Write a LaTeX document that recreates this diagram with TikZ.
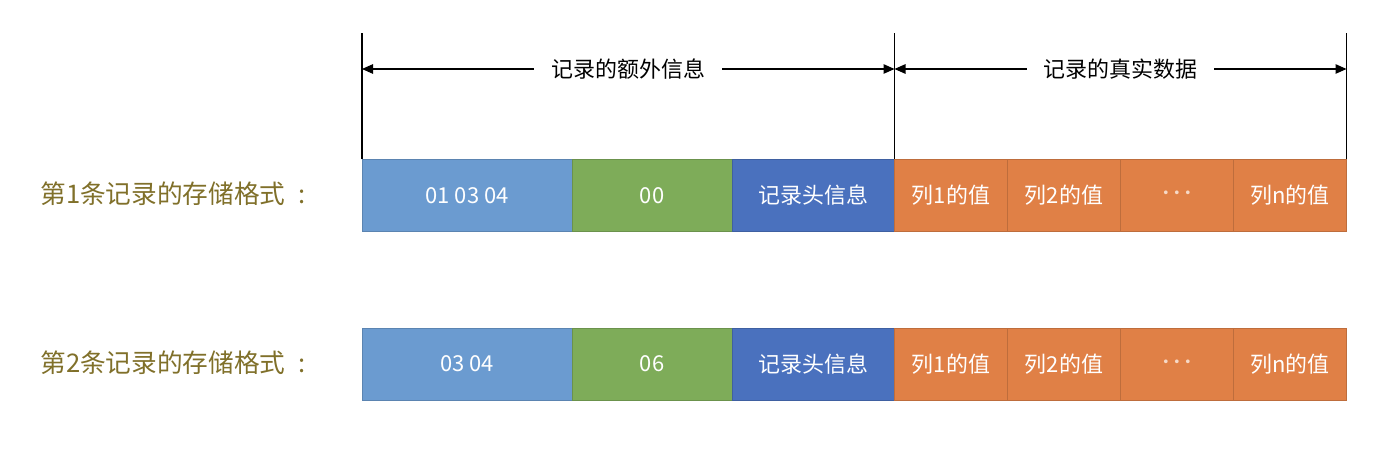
\documentclass[tikz,border=0pt]{standalone}
\usepackage{fontspec}
\setmainfont{Noto Sans CJK SC}
\usepackage{xcolor}
\usetikzlibrary{positioning,arrows.meta}

\definecolor{lightblue}{RGB}{107,155,208}
\definecolor{grassgreen}{RGB}{126,172,89}
\definecolor{deepblue}{RGB}{74,113,190}
\definecolor{carrot}{RGB}{224,128,70}
\definecolor{olive}{RGB}{128,112,42}

\newcommand{\celldots}{\textcolor{white!70!carrot}{\fontsize{10}{10}\selectfont ·\hspace{-0.13cm}·\hspace{-0.13cm}·}}

\begin{document}
\begin{tikzpicture}[
			cell/.style={
				draw=#1!85!black,
				line width=0.4pt,
				fill=#1,
				outer sep=0pt,
				minimum height=1.44cm,
				text=white,
				font=\fontsize{12.5}{14}\selectfont
			},
			rowlabel/.style={
				anchor=west,
				inner xsep=0pt,
				text=olive,
				font=\fontsize{14.6}{17}\selectfont
			},
			span/.style={
				{Triangle[length=2.2mm,width=1.9mm]}-{Triangle[length=2.2mm,width=1.9mm]},
				line width=0.7pt
			},
			spanlabel/.style={
				fill=white,
				inner xsep=0.34cm,
				font=\fontsize{12.5}{14}\selectfont
			}
			]
			\useasboundingbox (0,0) rectangle (27.6,-9.16);
			% first record
			\node[rowlabel] (l1) at (0.8,-3.87) {第1条记录的存储格式\hspace{0.5em}:};
			\node[cell=lightblue, minimum width=4.2cm, anchor=west] (a1) at (7.24,-3.91) {01 03 04};
			\node[cell=grassgreen, minimum width=3.2cm, right=0pt of a1] (b1) {00};
			\node[cell=deepblue, minimum width=3.25cm, right=0pt of b1] (h1) {记录头信息};
			\node[cell=carrot, minimum width=2.26cm, right=0pt of h1] (c1) {列1的值};
			\node[cell=carrot, minimum width=2.26cm, right=0pt of c1] (c2) {列2的值};
			\node[cell=carrot, minimum width=2.26cm, right=0pt of c2] (cd) {\celldots};
			\node[cell=carrot, minimum width=2.26cm, right=0pt of cd] (cn) {列n的值};
			% second record
			\node[rowlabel] (l2) at (0.8,-7.26) {第2条记录的存储格式\hspace{0.5em}:};
			\node[cell=lightblue, minimum width=4.2cm, anchor=west] (a2) at (7.24,-7.28) {03 04};
			\node[cell=grassgreen, minimum width=3.2cm, right=0pt of a2] (b2) {06};
			\node[cell=deepblue, minimum width=3.25cm, right=0pt of b2] (h2) {记录头信息};
			\node[cell=carrot, minimum width=2.26cm, right=0pt of h2] (d1) {列1的值};
			\node[cell=carrot, minimum width=2.26cm, right=0pt of d1] (d2) {列2的值};
			\node[cell=carrot, minimum width=2.26cm, right=0pt of d2] (dd) {\celldots};
			\node[cell=carrot, minimum width=2.26cm, right=0pt of dd] (dn) {列n的值};
			% spans above the first record
			\coordinate (topA) at (a1.north west |- 0,-0.66);
			\coordinate (topB) at (h1.north east |- 0,-0.66);
			\coordinate (topC) at (cn.north east |- 0,-0.66);
			\coordinate (arrA) at (a1.north west |- 0,-1.38);
			\coordinate (arrB) at (h1.north east |- 0,-1.38);
			\coordinate (arrC) at (cn.north east |- 0,-1.38);
			\draw[line width=0.7pt] (a1.north west) -- (topA);
			\draw[line width=0.7pt] (h1.north east) -- (topB);
			\draw[line width=0.7pt] (cn.north east) -- (topC);
			\draw[span] (arrA) -- node[spanlabel] {记录的额外信息} (arrB);
			\draw[span] (arrB) -- node[spanlabel] {记录的真实数据} (arrC);
		\end{tikzpicture}
\end{document}
